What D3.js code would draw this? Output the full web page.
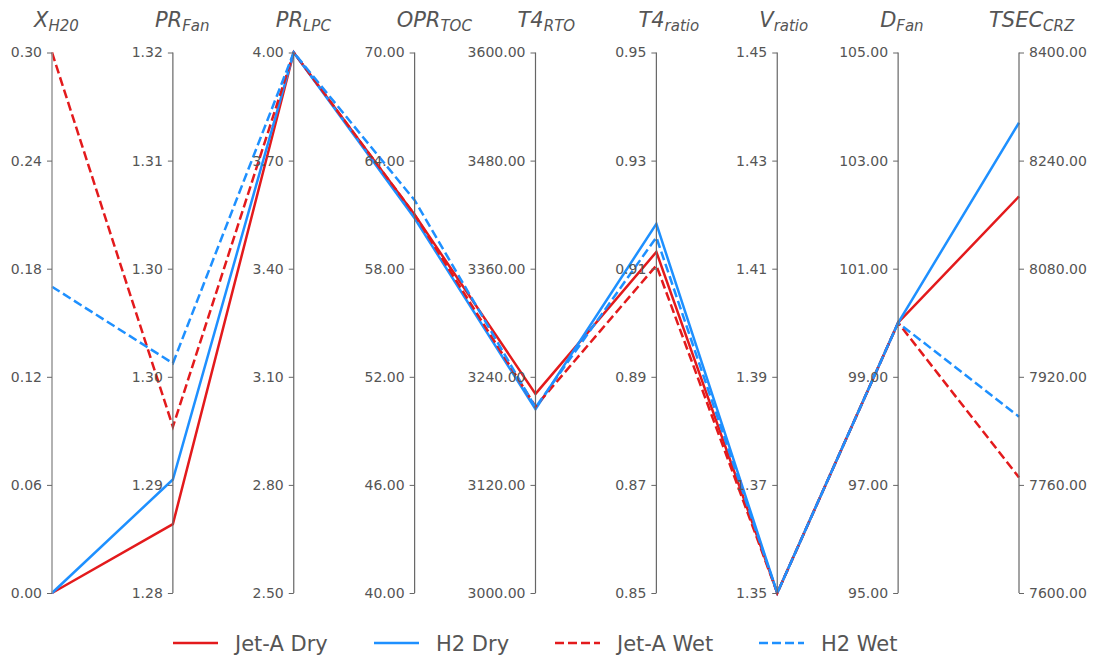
<!DOCTYPE html>
<html>
<head>
<meta charset="utf-8">
<script src="https://cdn.jsdelivr.net/npm/d3@7"></script>
<style>
    body { margin: 0; background: #fff; }
    text { font-family: "DejaVu Sans", sans-serif; }
</style>
</head>
<body>
<svg id="chart"></svg>
<script>
// axes of the parallel plot
const dims = ['X_H20', 'PR_Fan', 'PR_LPC', 'OPR_TOC', 'T4_RTO', 'T4_ratio', 'V_ratio', 'D_Fan', 'TSEC_CRZ']
const titleMain = ['X', 'PR', 'PR', 'OPR', 'T4', 'T4', 'V', 'D', 'TSEC']
const titleSub = ['H20', 'Fan', 'LPC', 'TOC', 'RTO', 'ratio', 'ratio', 'Fan', 'CRZ']
const mins = [0.00, 1.28, 2.50, 40.00, 3000.00, 0.85, 1.35, 95.00, 7600.00]
const maxs = [0.30, 1.32, 4.00, 70.00, 3600.00, 0.95, 1.45, 105.00, 8400.00]

// series values
const seriesNames = ['Jet-A Dry', 'H2 Dry', 'Jet-A Wet', 'H2 Wet']
const jetADry = [0.00, 1.2851, 4.00, 61.0, 3221, 0.9131, 1.35, 100.0, 8187]
const h2Dry = [0.00, 1.2884, 4.00, 60.8, 3204, 0.9183, 1.35, 100.0, 8296]
const jetAWet = [0.30, 1.2923, 4.00, 61.0, 3207, 0.9106, 1.35, 100.0, 7771]
const h2Wet = [0.17, 1.2970, 4.00, 61.8, 3206, 0.9158, 1.35, 100.0, 7861]
const seriesValues = [jetADry, h2Dry, jetAWet, h2Wet]
const seriesColours = ['#e31a1c', '#1e90ff', '#e31a1c', '#1e90ff']
const seriesDashed = [false, false, true, true]

const width = 1096
const height = 656
const yTop = 52.5
const yBottom = 593

let svg = d3.select('#chart')
    .attr('width', width)
    .attr('height', height)

let x = d3.scalePoint()
    .domain(dims)
    .range([52, 1019])

let y = dims.map((d, i) => d3.scaleLinear()
    .domain([mins[i], maxs[i]])
    .range([yBottom, yTop]))

// lines
let line = d3.line()
    .x(d => x(d.dim))
    .y(d => y[d.i](d.v))

svg.append('g')
    .attr('class', 'lines')
    .selectAll('path')
    .data(seriesValues)
    .join('path')
    .attr('d', vals => line(vals.map((v, i) => ({ dim: dims[i], i: i, v: v }))))
    .style('fill', 'none')
    .style('stroke', (d, i) => seriesColours[i])
    .style('stroke-width', 2.5)
    .style('stroke-dasharray', (d, i) => seriesDashed[i] ? '9,4' : null)

// axes
dims.forEach((d, i) => {
    let ticks = d3.range(6).map(k => mins[i] + k * (maxs[i] - mins[i]) / 5)
    let last = i === dims.length - 1
    let axis = (last ? d3.axisRight(y[i]) : d3.axisLeft(y[i]))
        .tickValues(ticks)
        .tickFormat(d3.format('.2f'))
        .tickSize(5)
        .tickPadding(5)

    let g = svg.append('g')
        .attr('transform', `translate(${x(d)},0)`)
        .call(axis)

    g.select('.domain')
        .attr('d', `M0,${yTop}V${yBottom}`)
        .style('stroke', i === 0 ? '#999' : '#666')
        .style('stroke-width', i === 0 ? 1.5 : 1.2)
    g.selectAll('.tick line').style('stroke', '#666')
    g.selectAll('.tick text')
        .style('font-size', '14px')
        .style('fill', '#555')

    // axis title with subscript, starts a little left of the axis
    let t = svg.append('text')
        .attr('x', x(d) - (last ? 30 : 18))
        .attr('y', 27)
        .attr('text-anchor', 'start')
        .style('font-style', 'italic')
        .style('fill', '#555')
    t.append('tspan')
        .style('font-size', '21px')
        .text(titleMain[i])
    t.append('tspan')
        .attr('dy', 4)
        .style('font-size', '15px')
        .text(titleSub[i])
})

// legend
const legendX = [173, 374, 555, 759]
let legend = svg.append('g')
    .selectAll('g')
    .data(seriesNames)
    .join('g')
    .attr('transform', (d, i) => `translate(${legendX[i]},643)`)

legend.append('line')
    .attr('x1', 0)
    .attr('x2', 45)
    .style('stroke', (d, i) => seriesColours[i])
    .style('stroke-width', 2.5)
    .style('stroke-dasharray', (d, i) => seriesDashed[i] ? '9,4' : null)

legend.append('text')
    .attr('x', 62)
    .attr('y', 7.5)
    .style('font-size', '21px')
    .style('fill', '#555')
    .text(d => d)
</script>
</body>
</html>
